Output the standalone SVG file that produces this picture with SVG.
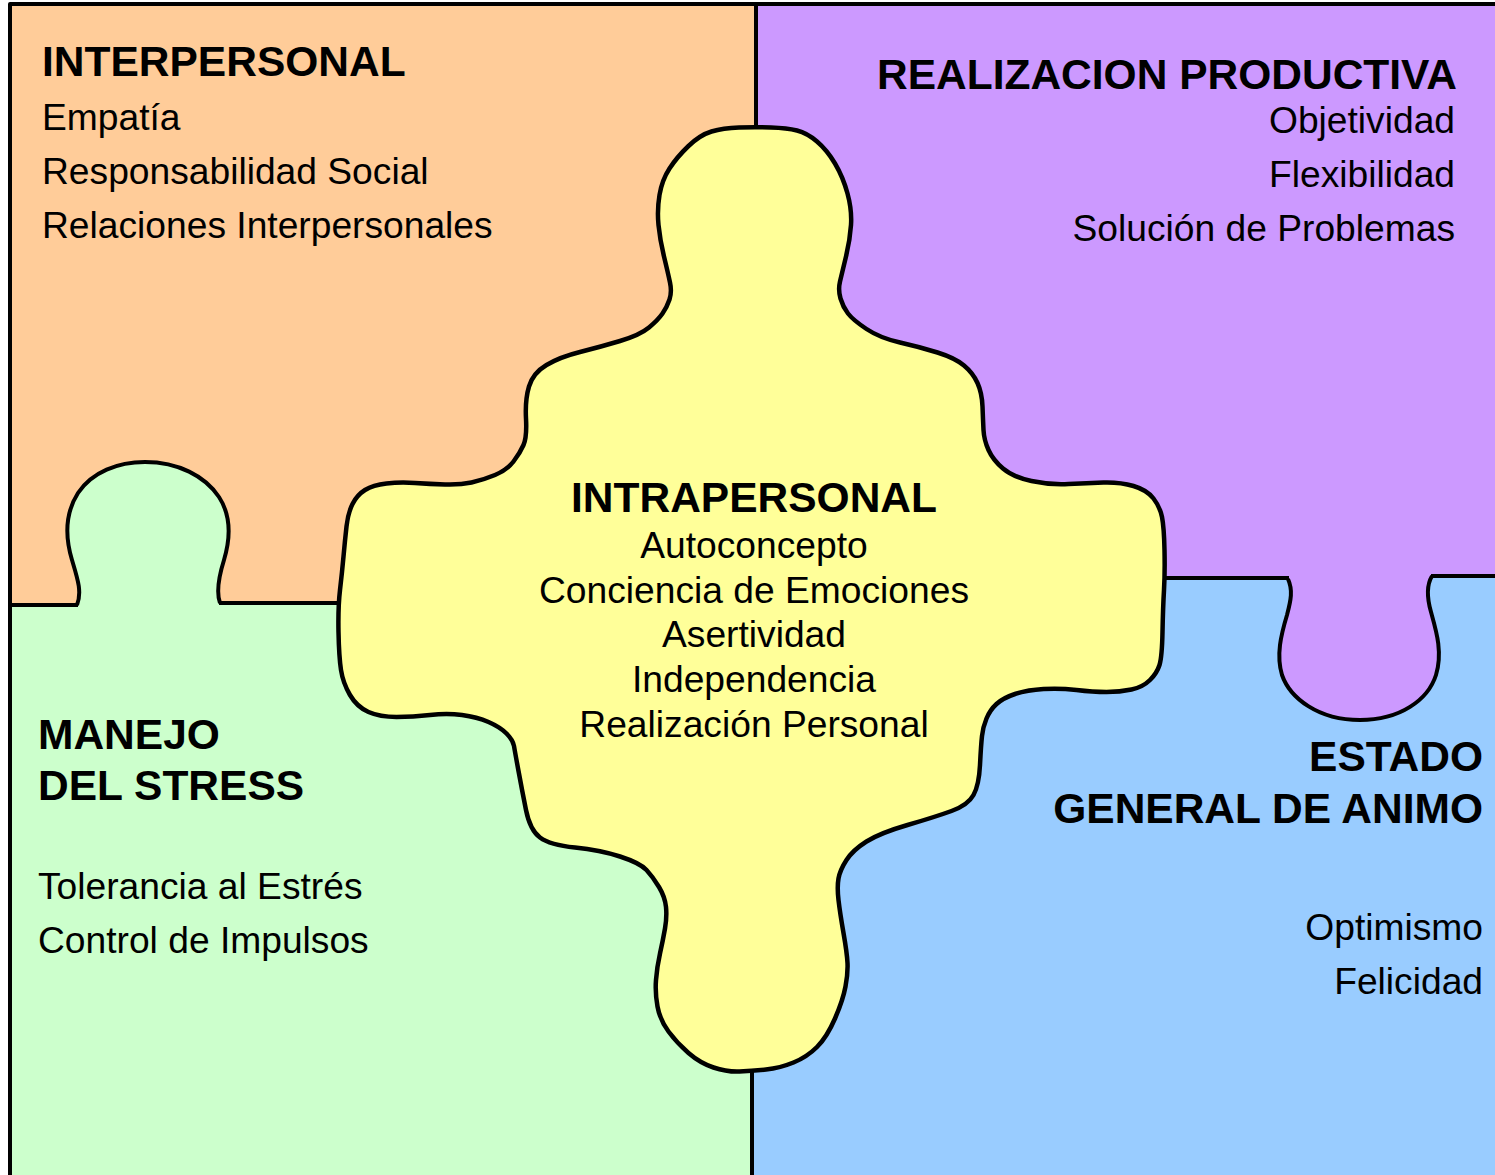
<svg xmlns="http://www.w3.org/2000/svg" width="1495" height="1175" viewBox="0 0 1495 1175">
<style>
.ln{fill:none;stroke:#000;stroke-width:4;stroke-linejoin:round;stroke-linecap:butt}
.h{font-family:"Liberation Sans",Arial,sans-serif;font-weight:bold;font-size:42.5px;fill:#000}
.t{font-family:"Liberation Sans",Arial,sans-serif;font-size:37.2px;fill:#000}
.e{text-anchor:end}
.m{text-anchor:middle}
</style>
<rect x="0" y="0" width="1495" height="1175" fill="#fff"/>
<g id="interpersonal">
<rect x="10" y="4" width="746" height="601" fill="#FFCC99"/>
<text class="h" x="42" y="76">INTERPERSONAL</text>
<text class="t" x="42" y="130">Empatía</text>
<text class="t" x="42" y="184">Responsabilidad Social</text>
<text class="t" x="42" y="238">Relaciones Interpersonales</text>
</g>
<g id="realizacion-productiva">
<rect x="756" y="4" width="739" height="574" fill="#CC99FF"/>
<text class="h e" x="1457" y="89">REALIZACION PRODUCTIVA</text>
<text class="t e" x="1455" y="133">Objetividad</text>
<text class="t e" x="1455" y="187">Flexibilidad</text>
<text class="t e" x="1455" y="241">Solución de Problemas</text>
</g>
<g id="manejo-stress">
<rect x="10" y="604" width="742" height="571" fill="#CCFFCC"/>
<path d="M77,605 C82,592 78,580 72,560 C66,540 64,515 78,493 C92,472 118,462 145,462 C178,462 205,476 219,497 C232,517 230,540 224,560 C219,576 216,592 220,603 L220,612 L77,612 Z" fill="#CCFFCC"/>
<path class="ln" d="M77,605 C82,592 78,580 72,560 C66,540 64,515 78,493 C92,472 118,462 145,462 C178,462 205,476 219,497 C232,517 230,540 224,560 C219,576 216,592 220,603"/>
<text class="h" x="38" y="749">MANEJO</text>
<text class="h" x="38" y="800">DEL STRESS</text>
<text class="t" x="38" y="899">Tolerancia al Estrés</text>
<text class="t" x="38" y="953">Control de Impulsos</text>
</g>
<g id="estado-animo">
<rect x="752" y="577" width="743" height="598" fill="#99CCFF"/>
<path d="M1288,579 C1293,590 1291,600 1287,615 C1281,635 1276,655 1282,675 C1290,698 1318,720 1360,720 C1400,720 1428,700 1436,675 C1443,652 1436,630 1431,612 C1427,598 1426,586 1432,576 L1432,568 L1288,568 Z" fill="#CC99FF"/>
<path class="ln" d="M1288,579 C1293,590 1291,600 1287,615 C1281,635 1276,655 1282,675 C1290,698 1318,720 1360,720 C1400,720 1428,700 1436,675 C1443,652 1436,630 1431,612 C1427,598 1426,586 1432,576"/>
<text class="h e" x="1483" y="771">ESTADO</text>
<text class="h e" x="1483" y="823">GENERAL DE ANIMO</text>
<text class="t e" x="1483" y="940">Optimismo</text>
<text class="t e" x="1483" y="994">Felicidad</text>
</g>
<g id="connectors">
<path class="ln" d="M756,4 L756,128 M752,1071 L752,1175 M10,605 L78,605 M219,603 L342,603 M1164,578 L1289,578 M1431,576 L1495,576"/>
<path class="ln" d="M10,1175 L10,4 L1495,4"/>
</g>
<g id="intrapersonal">
<path fill="#FFFF99" stroke="#000" stroke-width="4.5" stroke-linejoin="round" d="M739,127.5 Q755,127 771,127.5 Q787,128 797,130.5 Q807,133 817,141.5 Q827,150 835,163.5 Q843,177 847.5,193.5 Q852,210 851,225 Q850,240 846,256.5 Q842,273 840,281.5 Q838,290 840.5,298.5 Q843,307 848,313.5 Q853,320 866.5,329 Q880,338 900,342.5 Q920,347 937.5,352.5 Q955,358 964,365.5 Q973,373 977.5,383 Q982,393 982.5,406.5 Q983,420 983.5,430 Q984,440 988.5,450 Q993,460 1003,468.5 Q1013,477 1031.5,481 Q1050,485 1068.5,484 Q1087,483 1103.5,482.5 Q1120,482 1133.5,486 Q1147,490 1153.5,498.5 Q1160,507 1162,517 Q1164,527 1164.5,550 Q1165,573 1164,590 Q1163,607 1162.5,632 Q1162,657 1159.5,665 Q1157,673 1150,680 Q1143,687 1131.5,689.5 Q1120,692 1106.5,692 Q1093,692 1076.5,690 Q1060,688 1043.5,689 Q1027,690 1015,694 Q1003,698 996.5,704 Q990,710 986.5,718.5 Q983,727 982,736 Q981,745 980,765 Q979,785 973.5,795 Q968,805 951.5,811 Q935,817 907.5,825 Q880,833 866.5,841.5 Q853,850 846.5,860 Q840,870 838.5,878.5 Q837,887 838.5,900 Q840,913 843.5,933 Q847,953 847.5,963 Q848,973 845.5,986.5 Q843,1000 835,1018.5 Q827,1037 817,1047 Q807,1057 793.5,1062.5 Q780,1068 766,1069.5 Q752,1071 739.5,1071.5 Q727,1072 713.5,1067.5 Q700,1063 688.5,1053 Q677,1043 668.5,1031.5 Q660,1020 657.5,1006.5 Q655,993 656,980 Q657,967 660,953.5 Q663,940 665,928.5 Q667,917 666,907 Q665,897 659,887 Q653,877 646.5,870 Q640,863 620,856.5 Q600,850 575,847.5 Q550,845 540,837.5 Q530,830 526,810 Q522,790 518.5,771 Q515,752 514,746 Q513,740 506.5,733.5 Q500,727 488.5,722 Q477,717 462,715 Q447,713 430,715 Q413,717 396.5,717 Q380,717 368.5,712 Q357,707 350,695 Q343,683 341,670 Q339,657 338.5,632 Q338,607 340,590 Q342,573 343.5,556.5 Q345,540 346.5,526.5 Q348,513 352.5,504 Q357,495 365,490 Q373,485 386.5,483.5 Q400,482 415,483 Q430,484 445,484.5 Q460,485 471.5,482.5 Q483,480 495,475 Q507,470 513.5,461.5 Q520,453 523.5,445 Q527,437 526,418.5 Q525,400 529,386.5 Q533,373 546.5,365 Q560,357 580,352 Q600,347 620,341 Q640,335 649,327.5 Q658,320 662.5,313.5 Q667,307 669.5,299.5 Q672,292 670,282.5 Q668,273 664,256.5 Q660,240 658.5,225 Q657,210 659.5,195 Q662,180 669.5,168.5 Q677,157 688.5,146 Q700,135 711.5,131.5 Q723,128 739,127.5 Z"/>
<text class="h m" x="754" y="512">INTRAPERSONAL</text>
<text class="t m" x="754" y="558">Autoconcepto</text>
<text class="t m" x="754" y="603">Conciencia de Emociones</text>
<text class="t m" x="754" y="647">Asertividad</text>
<text class="t m" x="754" y="692">Independencia</text>
<text class="t m" x="754" y="737">Realización Personal</text>
</g>
</svg>
